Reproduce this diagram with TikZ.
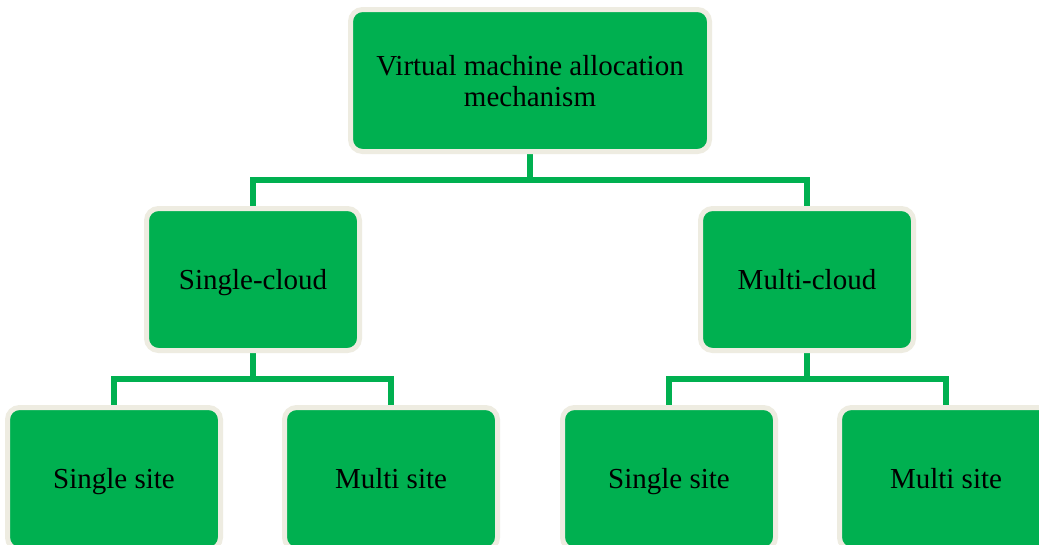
\documentclass[tikz,border=0pt]{standalone}
\usepackage{fontspec}
\setmainfont{Liberation Serif}
\definecolor{boxgreen}{HTML}{00B050}
\definecolor{rimcream}{HTML}{EEECE1}
\begin{document}
\begin{tikzpicture}[x=1pt,y=-1pt,
  box/.style={draw=rimcream, line width=5pt, fill=boxgreen, rounded corners=12pt,
    minimum width=213pt, minimum height=142pt, inner sep=0pt, align=center,
    font=\fontsize{29}{31}\selectfont, text=black},
  oneline/.style={text height=20pt, text depth=1pt},
  link/.style={draw=boxgreen, line width=5.5pt}]
\useasboundingbox (0,0) rectangle (1039,544);
\fill[white] (0,0) rectangle (1039,544);

% junction points of the tree
\coordinate (j0) at (530,180);
\coordinate (j1) at (253,379);
\coordinate (j2) at (807,379);

% connectors (drawn first, boxes sit on top)
\draw[link] (530,150) -- (j0);
\draw[link] (253,210) |- (j0) -| (807,210);
\draw[link] (253,350) -- (j1);
\draw[link] (114,410) |- (j1) -| (391,410);
\draw[link] (807,350) -- (j2);
\draw[link] (669,410) |- (j2) -| (946,410);

% boxes
\node[box, minimum width=359pt] (root) at (530,80.5) {\begin{tabular}{@{}c@{}}\rule{0pt}{29.7pt}Virtual machine allocation\\mechanism\end{tabular}};
\node[box, oneline] (single) at (253,279.5) {Single-cloud};
\node[box, oneline] (multi) at (807,279.5) {Multi-cloud};
\node[box, oneline] (ss1) at (114,478.5) {Single site};
\node[box, oneline] (ms1) at (391,478.5) {Multi site};
\node[box, oneline] (ss2) at (669,478.5) {Single site};
\node[box, oneline] (ms2) at (946,478.5) {Multi site};
\end{tikzpicture}
\end{document}
